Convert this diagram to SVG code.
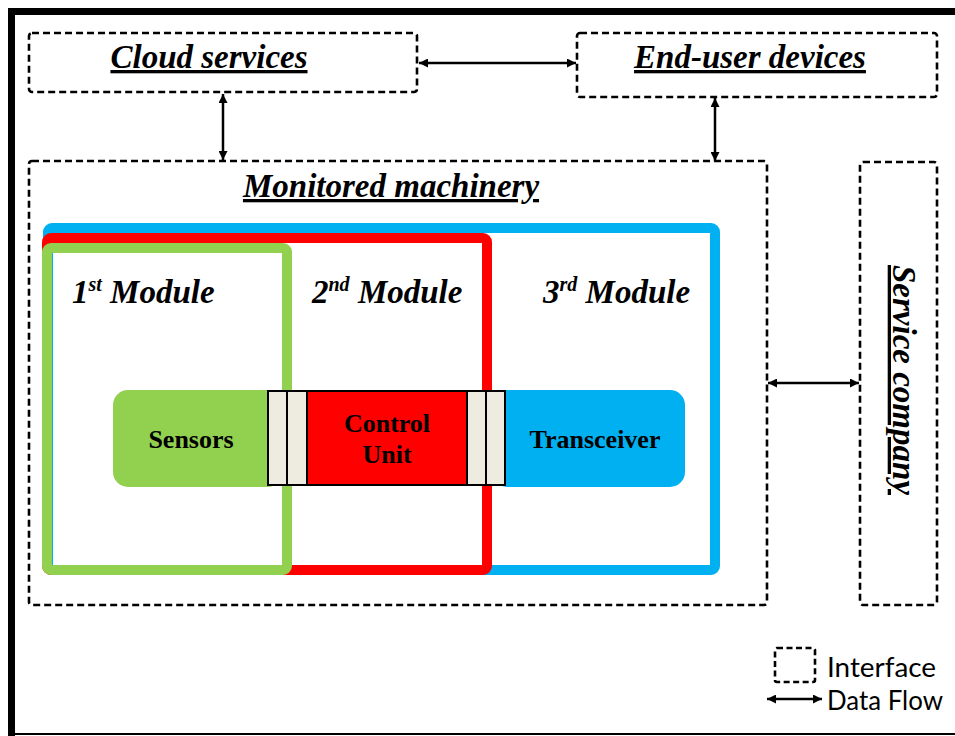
<svg xmlns="http://www.w3.org/2000/svg" width="955" height="736" viewBox="0 0 955 736">
<style>
.iface{fill:none;stroke:#000;stroke-width:2.6;stroke-dasharray:7 4}
.title{font-family:"Liberation Serif","Times New Roman",serif;font-weight:bold;font-style:italic;font-size:33px;fill:#000;text-decoration:underline}
.mod{font-family:"Liberation Serif","Times New Roman",serif;font-weight:bold;font-style:italic;font-size:33px;fill:#000}
.lbl{font-family:"Liberation Serif","Times New Roman",serif;font-weight:bold;font-size:26px;fill:#000;text-anchor:middle}
.legend{font-family:Lato,"Liberation Sans",sans-serif;font-size:27px;fill:#000}
.flow{stroke:#000;stroke-width:2.5;fill:none;marker-start:url(#ah);marker-end:url(#ah)}
.strip{fill:#EEECE1;stroke:#000;stroke-width:2}
</style>
<defs>
<marker id="ah" markerUnits="userSpaceOnUse" markerWidth="10" markerHeight="9" refX="9" refY="4.5" orient="auto-start-reverse">
<path d="M0,0 L9,4.5 L0,9 z" fill="#000"/>
</marker>
</defs>
<rect width="955" height="736" fill="#fff"/>
<g id="frame">
<path d="M11.5,736 V11.5 H955" fill="none" stroke="#000" stroke-width="7"/>
<line x1="8" y1="734" x2="955" y2="734" stroke="#000" stroke-width="2"/>
</g>
<g id="cloud">
<rect class="iface" x="29" y="33" width="388" height="59" rx="3"/>
<text class="title" x="209" y="68" text-anchor="middle">Cloud services</text>
</g>
<g id="enduser">
<rect class="iface" x="577" y="33" width="360" height="64" rx="3"/>
<text class="title" x="750" y="68" text-anchor="middle">End-user devices</text>
</g>
<g id="machinery">
<rect class="iface" x="29" y="161" width="738" height="444" rx="3"/>
<text class="title" x="391" y="197" text-anchor="middle">Monitored machinery</text>
</g>
<g id="service">
<rect class="iface" x="860" y="162" width="77" height="443" rx="3"/>
<text class="title" transform="translate(893,380) rotate(90)" x="0" y="0" text-anchor="middle">Service company</text>
</g>
<g id="module3">
<rect x="48" y="228" width="667" height="342" rx="4" fill="none" stroke="#00B0F0" stroke-width="10"/>
<text class="mod" x="543" y="303">3<tspan font-size="20" dy="-12">rd</tspan><tspan dy="12"> Module</tspan></text>
</g>
<g id="module2">
<rect x="47" y="238" width="440" height="332" rx="4" fill="none" stroke="#FF0000" stroke-width="10"/>
<text class="mod" x="312" y="303">2<tspan font-size="20" dy="-12">nd</tspan><tspan dy="12"> Module</tspan></text>
</g>
<g id="module1">
<rect x="47" y="248" width="240" height="322" rx="4" fill="none" stroke="#92D050" stroke-width="10"/>
<text class="mod" x="72" y="303">1<tspan font-size="20" dy="-12">st</tspan><tspan dy="12"> Module</tspan></text>
</g>
<g id="sensors">
<rect x="113" y="390" width="170" height="97" rx="15" fill="#92D050"/>
<text class="lbl" x="191" y="448">Sensors</text>
</g>
<g id="transceiver">
<rect x="492" y="390" width="193" height="97" rx="15" fill="#00B0F0"/>
<text class="lbl" x="595" y="448">Transceiver</text>
</g>
<g id="control">
<rect x="268" y="391" width="19" height="94" class="strip"/>
<rect x="287" y="391" width="20" height="94" class="strip"/>
<rect x="307" y="391" width="160" height="94" fill="#FF0000" stroke="#000" stroke-width="2"/>
<rect x="467" y="391" width="19" height="94" class="strip"/>
<rect x="486" y="391" width="19" height="94" class="strip"/>
<text class="lbl" x="387" y="432">Control</text>
<text class="lbl" x="387" y="463">Unit</text>
</g>
<g id="connectors">
<line class="flow" x1="419" y1="63" x2="576" y2="63"/>
<line class="flow" x1="223" y1="94" x2="223" y2="160"/>
<line class="flow" x1="715" y1="98" x2="715" y2="161"/>
<line class="flow" x1="768" y1="383" x2="859" y2="383"/>
</g>
<g id="legend">
<rect class="iface" x="775" y="648" width="40" height="34" rx="2" style="stroke-dasharray:6 3.5"/>
<text class="legend" x="827" y="677" textLength="109" lengthAdjust="spacingAndGlyphs">Interface</text>
<line class="flow" x1="767" y1="699" x2="822" y2="699"/>
<text class="legend" x="827" y="710" textLength="116" lengthAdjust="spacingAndGlyphs">Data Flow</text>
</g>
</svg>
